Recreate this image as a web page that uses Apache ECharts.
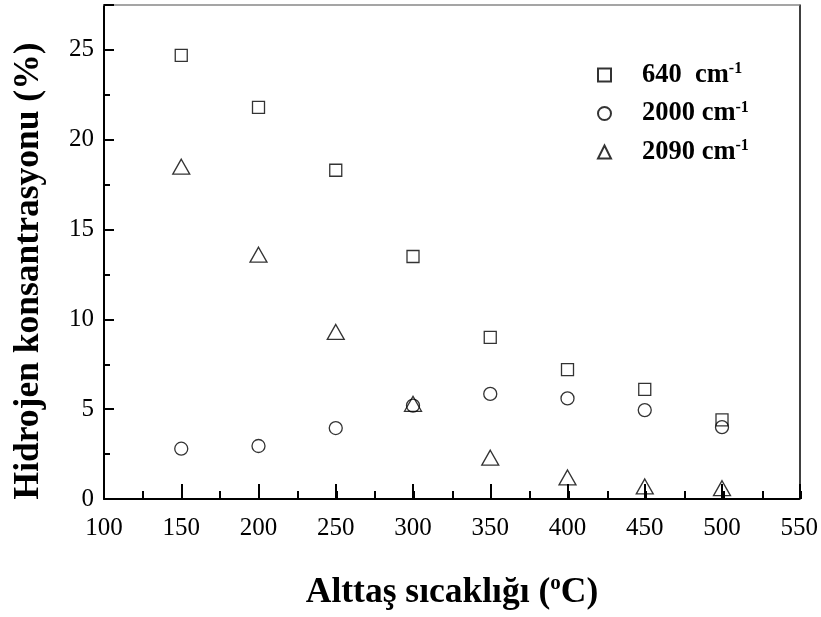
<!DOCTYPE html>
<html>
<head>
<meta charset="utf-8">
<script src="https://cdn.jsdelivr.net/npm/echarts@6/dist/echarts.min.js"></script>
<style>
  html, body { margin: 0; padding: 0; background: #fff; }
  #chart { width: 821px; height: 617px; }
</style>
</head>
<body>
<div id="chart"></div>
<script>
// substrate temperature (°C)
const temps = [150, 200, 250, 300, 350, 400, 450, 500];
// hydrogen concentration (%) per IR band
const h640 = [24.7, 21.8, 18.3, 13.5, 9.0, 7.2, 6.1, 4.4];
const h2000 = [2.8, 2.95, 3.95, 5.2, 5.85, 5.6, 4.95, 4.0];
const h2090 = [18.5, 13.6, 9.3, 5.3, 2.3, 1.2, 0.7, 0.6];
const seriesNames = ['640 cm-1', '2000 cm-1', '2090 cm-1'];
const legendLabels = {
    '640 cm-1': '{a|640  cm}{s|-1}',
    '2000 cm-1': '{a|2000 cm}{s|-1}',
    '2090 cm-1': '{a|2090 cm}{s|-1}',
};

const FONT = "'Liberation Serif', 'Times New Roman', serif";
const grid = { left: 104, right: 20, top: 5, bottom: 118 };

const pairs = (ys) => temps.map((t, i) => [t, ys[i]]);

const markStyle = {
    color: 'transparent',
    borderColor: '#000',
    borderWidth: 1.3,
};

const chart = echarts.init(document.getElementById('chart'));

chart.setOption({
    backgroundColor: '#fff',
    animation: false,
    grid: [
        Object.assign({}, grid),
        Object.assign({}, grid),
    ],
    legend: {
        orient: 'vertical',
        left: 592,
        top: 56,
        itemWidth: 13,
        itemHeight: 13,
        itemGap: 11,
        data: [
            { name: seriesNames[0], icon: 'rect' },
            { name: seriesNames[1], icon: 'circle' },
            { name: seriesNames[2], icon: 'triangle' },
        ],
        formatter: (name) => legendLabels[name],
        textStyle: {
            rich: {
                a: {
                    fontFamily: FONT,
                    fontWeight: 'bold',
                    fontSize: 26.5,
                    color: '#000',
                    lineHeight: 28,
                    padding: [0, 0, 0, 26],
                },
                s: {
                    fontFamily: FONT,
                    fontWeight: 'bold',
                    fontSize: 16,
                    color: '#000',
                    verticalAlign: 'top',
                    lineHeight: 16,
                },
            },
        },
    },
    xAxis: [
        {
            // main bottom axis
            gridIndex: 0,
            type: 'value',
            position: 'bottom',
            min: 100,
            max: 550,
            interval: 50,
            axisLine: { onZero: false, lineStyle: { color: '#000', width: 2 } },
            axisTick: { inside: true, length: 15, lineStyle: { color: '#000', width: 2 } },
            axisLabel: { color: '#000', fontFamily: FONT, fontSize: 25, margin: 17 },
            splitLine: { show: false },
        },
        {
            // top frame line
            gridIndex: 0,
            type: 'value',
            position: 'top',
            min: 100,
            max: 550,
            axisLine: { onZero: false, lineStyle: { color: '#888', width: 1.5 } },
            axisTick: { show: false },
            axisLabel: { show: false },
            splitLine: { show: false },
        },
        {
            // minor ticks
            gridIndex: 1,
            type: 'value',
            position: 'bottom',
            min: 100,
            max: 550,
            interval: 25,
            axisLine: { show: false, onZero: false },
            axisTick: { inside: true, length: 8, lineStyle: { color: '#000', width: 2 } },
            axisLabel: { show: false },
            splitLine: { show: false },
        },
    ],
    yAxis: [
        {
            gridIndex: 0,
            type: 'value',
            position: 'left',
            min: 0,
            max: 27.5,
            interval: 5,
            axisLine: { onZero: false, lineStyle: { color: '#000', width: 2 } },
            axisTick: { inside: true, length: 10, lineStyle: { color: '#000', width: 2 } },
            axisLabel: {
                color: '#000',
                fontFamily: FONT,
                fontSize: 25,
                margin: 10,
                formatter: (v) => (v % 5 === 0 ? String(v) : ''),
            },
            splitLine: { show: false },
        },
        {
            // right frame line
            gridIndex: 0,
            type: 'value',
            position: 'right',
            min: 0,
            max: 27.5,
            axisLine: { onZero: false, lineStyle: { color: '#000', width: 1.5 } },
            axisTick: { show: false },
            axisLabel: { show: false },
            splitLine: { show: false },
        },
        {
            // minor ticks
            gridIndex: 1,
            type: 'value',
            position: 'left',
            min: 0,
            max: 27.5,
            interval: 2.5,
            axisLine: { show: false, onZero: false },
            axisTick: { inside: true, length: 6, lineStyle: { color: '#000', width: 2 } },
            axisLabel: { show: false },
            splitLine: { show: false },
        },
    ],
    graphic: [
        {
            type: 'text',
            x: 29,
            y: 271,
            rotation: Math.PI / 2,
            style: {
                text: 'Hidrojen konsantrasyonu (%)',
                fontFamily: FONT,
                fontWeight: 'bold',
                fontSize: 35.5,
                fill: '#000',
                align: 'center',
                verticalAlign: 'middle',
            },
        },
        {
            type: 'text',
            x: 452,
            y: 593,
            style: {
                text: '{a|Alttaş sıcaklığı (}{s|o}{a|C)}',
                align: 'center',
                verticalAlign: 'middle',
                rich: {
                    a: {
                        fontFamily: FONT,
                        fontWeight: 'bold',
                        fontSize: 35.5,
                        fill: '#000',
                        lineHeight: 40,
                    },
                    s: {
                        fontFamily: FONT,
                        fontWeight: 'bold',
                        fontSize: 21,
                        fill: '#000',
                        verticalAlign: 'top',
                        lineHeight: 22,
                    },
                },
            },
        },
    ],
    series: [
        {
            name: seriesNames[0],
            type: 'scatter',
            xAxisIndex: 0,
            yAxisIndex: 0,
            symbol: 'rect',
            symbolSize: 12,
            itemStyle: markStyle,
            data: pairs(h640),
        },
        {
            name: seriesNames[1],
            type: 'scatter',
            xAxisIndex: 0,
            yAxisIndex: 0,
            symbol: 'circle',
            symbolSize: 13,
            itemStyle: markStyle,
            data: pairs(h2000),
        },
        {
            name: seriesNames[2],
            type: 'scatter',
            xAxisIndex: 0,
            yAxisIndex: 0,
            symbol: 'triangle',
            symbolSize: [17, 15],
            itemStyle: markStyle,
            data: pairs(h2090),
        },
    ],
});
</script>
</body>
</html>
